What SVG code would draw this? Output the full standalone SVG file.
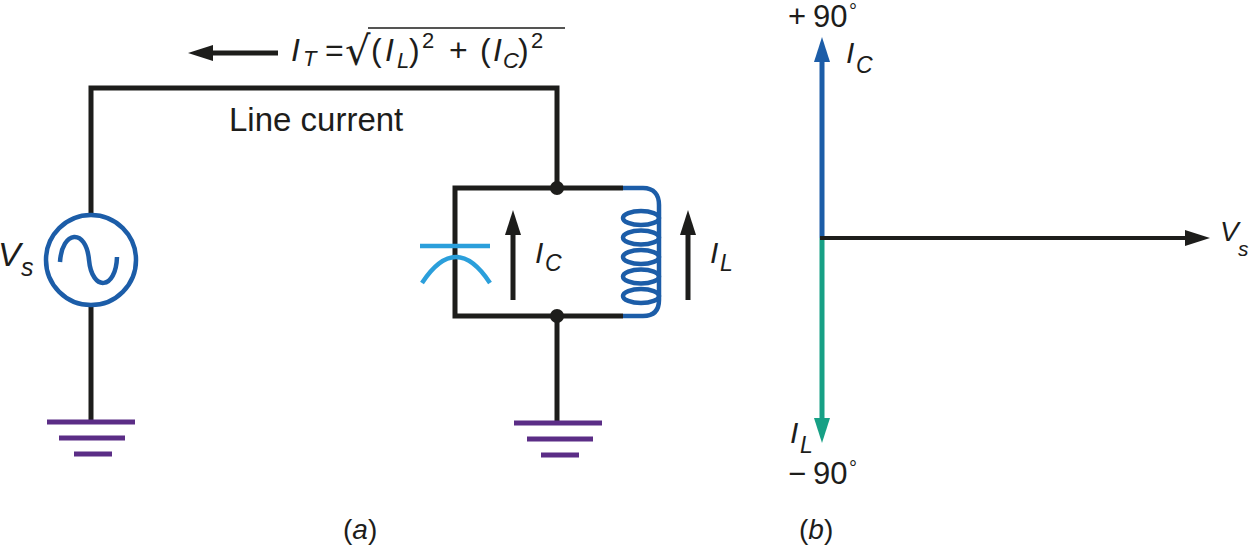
<svg xmlns="http://www.w3.org/2000/svg" width="1253" height="550" viewBox="0 0 1253 550">
<style>
.w{stroke:#1d1d1b;stroke-width:5;fill:none}
.gnd{stroke:#5b2d86;stroke-width:5;fill:none}
.src{stroke:#1c5da8;stroke-width:4.5;fill:none}
.cap{stroke:#2b9fdb;stroke-width:4.5;fill:none}
.t{font-family:"Liberation Sans",Arial,sans-serif;fill:#1d1d1b}
.i{font-style:italic}
</style>
<defs>
<marker id="ak" viewBox="0 0 25 16" markerWidth="25" markerHeight="16" refX="10" refY="8" orient="auto" markerUnits="userSpaceOnUse"><path d="M0,0 L25,8 L0,16 z" fill="#1d1d1b"/></marker>
<marker id="ab" viewBox="0 0 25 16" markerWidth="25" markerHeight="16" refX="10" refY="8" orient="auto" markerUnits="userSpaceOnUse"><path d="M0,0 L25,8 L0,16 z" fill="#1c5da8"/></marker>
<marker id="ag" viewBox="0 0 25 16" markerWidth="25" markerHeight="16" refX="10" refY="8" orient="auto" markerUnits="userSpaceOnUse"><path d="M0,0 L25,8 L0,16 z" fill="#17a085"/></marker>
</defs>

<g id="connectors">
<polyline class="w" points="91,214 91,88 557,88 557,188"/>
<line class="w" x1="91" y1="306" x2="91" y2="422"/>
<polyline class="w" points="623,188 455,188 455,316 623,316"/>
<line class="w" x1="557" y1="316" x2="557" y2="423"/>
</g>

<g id="source">
<circle class="src" cx="91" cy="260" r="45"/>
<path class="src" d="M60,262 C62,230 86,228 89,260 C92,292 116,290 117,257"/>
<text class="t i" x="-2" y="266" font-size="34">V</text>
<text class="t i" x="21" y="276" font-size="25">s</text>
</g>

<g id="ground-left">
<line class="gnd" x1="47" y1="422" x2="135" y2="422"/>
<line class="gnd" x1="59" y1="438" x2="125" y2="438"/>
<line class="gnd" x1="74" y1="454" x2="112" y2="454"/>
</g>

<g id="ground-right">
<line class="gnd" x1="514" y1="423" x2="602" y2="423"/>
<line class="gnd" x1="527" y1="439" x2="593" y2="439"/>
<line class="gnd" x1="541" y1="455" x2="579" y2="455"/>
</g>

<g id="junctions">
<circle cx="557" cy="188" r="7" fill="#1d1d1b"/>
<circle cx="557" cy="316" r="7" fill="#1d1d1b"/>
</g>

<g id="capacitor">
<line class="cap" x1="420" y1="246" x2="490" y2="246"/>
<path class="cap" d="M422,283 Q456,231 490,283"/>
</g>

<g id="inductor" class="src">
<path d="M623,188 H643 C654,188 659,195 659,205 V300 C659,310 654,316 643,316 H623"/>
<ellipse cx="641" cy="218" rx="18" ry="7"/>
<ellipse cx="641" cy="237.5" rx="18" ry="7"/>
<ellipse cx="641" cy="257" rx="18" ry="7"/>
<ellipse cx="641" cy="276.5" rx="18" ry="7"/>
<ellipse cx="641" cy="296" rx="18" ry="7"/>
</g>

<g id="current-arrows">
<line class="w" stroke-width="4" x1="513" y1="300" x2="513" y2="225" marker-end="url(#ak)"/>
<line class="w" stroke-width="4" x1="688" y1="300" x2="688" y2="225" marker-end="url(#ak)"/>
<line class="w" stroke-width="4" x1="278" y1="53" x2="203" y2="53" marker-end="url(#ak)"/>
</g>

<g id="labels-a">
<text class="t i" x="535" y="263" font-size="30">I</text>
<text class="t i" x="545" y="271" font-size="23">C</text>
<text class="t i" x="710" y="263" font-size="30">I</text>
<text class="t i" x="720" y="271" font-size="23">L</text>
<text class="t" x="229" y="131" font-size="33">Line current</text>
</g>

<g id="formula">
<text class="t i" x="291" y="61" font-size="32">I</text>
<text class="t i" x="303" y="66" font-size="22">T</text>
<text class="t" x="325" y="61" font-size="32">=</text>
<text x="345" y="65" font-size="40" font-family="DejaVu Sans,sans-serif" fill="#1d1d1b">√</text>
<line x1="368" y1="28" x2="565" y2="28" stroke="#1d1d1b" stroke-width="1.5"/>
<text class="t" x="371" y="61" font-size="32">(</text>
<text class="t i" x="385" y="61" font-size="32">I</text>
<text class="t i" x="397" y="68" font-size="22">L</text>
<text class="t" x="409" y="61" font-size="32">)</text>
<text class="t" x="422" y="48" font-size="22">2</text>
<text class="t" x="449" y="61" font-size="32">+</text>
<text class="t" x="480" y="61" font-size="32">(</text>
<text class="t i" x="493" y="61" font-size="32">I</text>
<text class="t i" x="503" y="68" font-size="22">C</text>
<text class="t" x="518" y="61" font-size="32">)</text>
<text class="t" x="531" y="48" font-size="22">2</text>
</g>

<g id="phasors">
<line stroke="#1c5da8" stroke-width="5" x1="822" y1="238" x2="822" y2="52" marker-end="url(#ab)"/>
<line stroke="#17a085" stroke-width="5" x1="822" y1="238" x2="822" y2="428" marker-end="url(#ag)"/>
<line stroke="#1d1d1b" stroke-width="4" x1="820" y1="238" x2="1195" y2="238" marker-end="url(#ak)"/>
</g>

<g id="labels-b">
<text class="t" x="788" y="27" font-size="31">+</text>
<text class="t" x="813" y="27" font-size="31">90</text>
<text class="t" x="849" y="18" font-size="20">°</text>
<text class="t i" x="846" y="63" font-size="30">I</text>
<text class="t i" x="856" y="73" font-size="23">C</text>
<text class="t i" x="790" y="443" font-size="30">I</text>
<text class="t i" x="800" y="453" font-size="23">L</text>
<text class="t" x="788" y="484" font-size="31">−</text>
<text class="t" x="813" y="484" font-size="31">90</text>
<text class="t" x="849" y="475" font-size="20">°</text>
<text class="t i" x="1220" y="241" font-size="28">V</text>
<text class="t i" x="1238" y="256" font-size="21">s</text>
</g>

<g id="captions">
<text class="t" x="343" y="539" font-size="28">(<tspan font-style="italic">a</tspan>)</text>
<text class="t" x="799" y="539" font-size="28">(<tspan font-style="italic">b</tspan>)</text>
</g>
</svg>
